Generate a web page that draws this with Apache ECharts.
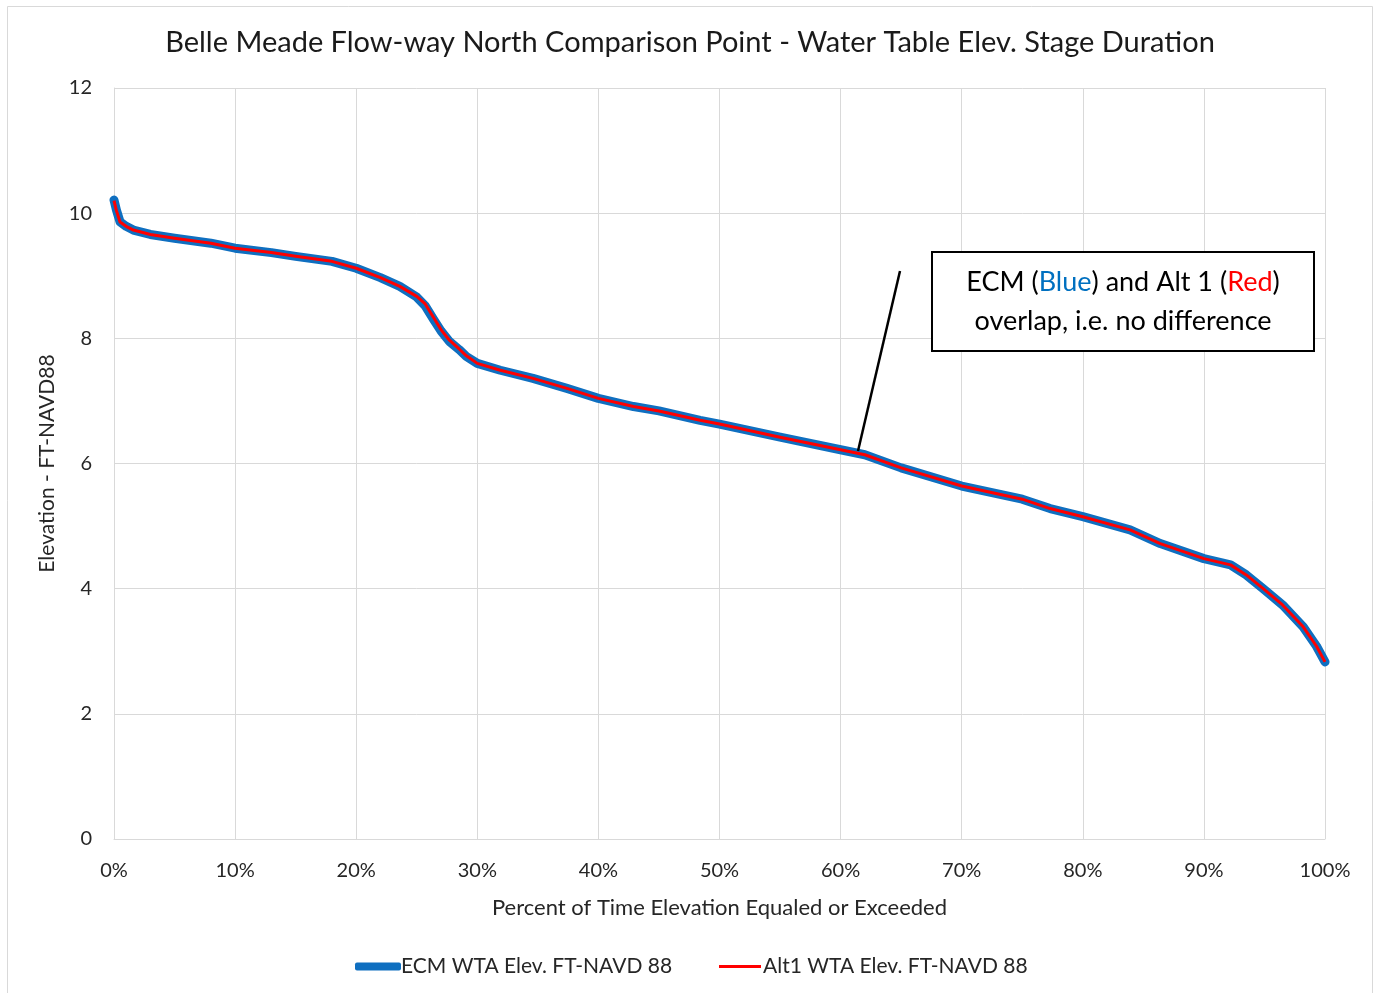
<!DOCTYPE html>
<html>
<head>
<meta charset="utf-8">
<script src="https://cdn.jsdelivr.net/npm/echarts@6/dist/echarts.min.js"></script>
<style>
html,body{margin:0;padding:0;background:#fff;}
#chart{width:1380px;height:993px;}
</style>
</head>
<body>
<div id="chart"></div>
<script>
// Percent of time (x) and elevation values (ft NAVD88)
const percentTime = [0,0.2,0.5,1,1.6,3,5,8,10,13,15,18,20,22,23.6,25,25.7,26.4,27,27.7,28.5,29.1,30,31.9,34.6,37.4,40,42.9,45,48.4,50,55,60,62,65,70,75,77.3,80,83.9,86.4,90,92.2,93.5,94.9,96.5,98.2,99.3,100];
const ecmElev = [10.21,10.05,9.86,9.79,9.73,9.66,9.60,9.52,9.44,9.37,9.31,9.23,9.12,8.97,8.83,8.66,8.52,8.30,8.12,7.95,7.82,7.71,7.60,7.49,7.36,7.20,7.04,6.91,6.84,6.69,6.63,6.42,6.22,6.14,5.93,5.64,5.43,5.28,5.15,4.94,4.72,4.48,4.38,4.22,4.00,3.74,3.39,3.08,2.83];
const alt1Elev = [10.20,10.04,9.86,9.79,9.73,9.66,9.60,9.52,9.44,9.37,9.31,9.23,9.12,8.97,8.83,8.67,8.55,8.33,8.14,7.97,7.83,7.72,7.60,7.49,7.36,7.20,7.04,6.91,6.84,6.69,6.63,6.42,6.22,6.14,5.93,5.64,5.43,5.28,5.15,4.94,4.72,4.48,4.38,4.22,4.00,3.74,3.39,3.08,2.83];
const seriesNames = ['ECM WTA Elev. FT-NAVD 88', 'Alt1 WTA Elev. FT-NAVD 88'];
const titleText = 'Belle Meade Flow-way North Comparison Point - Water Table Elev. Stage Duration';
const xAxisTitle = 'Percent of Time Elevation Equaled or Exceeded';
const yAxisTitle = 'Elevation - FT-NAVD88';

const FONT = 'Lato, "Open Sans", sans-serif';
const TXT = '#262626';
const pair = (xs, ys) => xs.map((x, i) => [x, ys[i]]);

const chart = echarts.init(document.getElementById('chart'));
chart.setOption({
  animation: false,
  backgroundColor: '#ffffff',
  title: {
    text: titleText,
    left: 'center',
    top: 23,
    textStyle: { fontFamily: FONT, fontSize: 29, fontWeight: 'normal', color: '#1a1a1a' }
  },
  grid: { left: 114, right: 55, top: 88, bottom: 154, containLabel: false },
  xAxis: {
    type: 'value', min: 0, max: 100, interval: 10,
    name: xAxisTitle, nameLocation: 'middle', nameGap: 58,
    nameTextStyle: { fontFamily: FONT, fontSize: 22, color: TXT },
    axisLine: { show: true, lineStyle: { color: '#d9d9d9', width: 1 } },
    axisTick: { show: false },
    axisLabel: { formatter: '{value}%', fontFamily: FONT, fontSize: 20, color: TXT, margin: 22 },
    splitLine: { show: true, lineStyle: { color: '#d9d9d9', width: 1 } }
  },
  yAxis: {
    type: 'value', min: 0, max: 12, interval: 2,
    name: yAxisTitle, nameLocation: 'middle', nameGap: 56, nameRotate: 90,
    nameTextStyle: { fontFamily: FONT, fontSize: 21, color: TXT },
    axisLine: { show: true, lineStyle: { color: '#d9d9d9', width: 1 } },
    axisTick: { show: false },
    axisLabel: { fontFamily: FONT, fontSize: 20, color: TXT, margin: 22 },
    splitLine: { show: true, lineStyle: { color: '#d9d9d9', width: 1 } }
  },
  legend: [
    {
      data: [{ name: seriesNames[0], icon: 'roundRect' }],
      left: 350, top: 951, itemWidth: 46, itemHeight: 8, itemGap: 0,
      textStyle: { fontFamily: FONT, fontSize: 21, color: TXT, padding: [0, 0, 0, -5] }
    },
    {
      data: [{ name: seriesNames[1], icon: 'rect' }],
      left: 714, top: 951, itemWidth: 42, itemHeight: 3, itemGap: 0,
      textStyle: { fontFamily: FONT, fontSize: 21, color: TXT, padding: [0, 0, 0, -3] }
    }
  ],
  series: [
    {
      name: seriesNames[0], type: 'line', data: pair(percentTime, ecmElev),
      showSymbol: false, symbol: 'none',
      lineStyle: { color: '#0f6fc0', width: 9, cap: 'round', join: 'round' },
      itemStyle: { color: '#0f6fc0' }
    },
    {
      name: seriesNames[1], type: 'line', data: pair(percentTime, alt1Elev),
      showSymbol: false, symbol: 'none',
      lineStyle: { color: '#ff0000', width: 3, join: 'round' },
      itemStyle: { color: '#ff0000' }
    }
  ],
  graphic: [
    { type: 'rect', shape: { x: 7.5, y: 6.5, width: 1365, height: 1000 },
      style: { fill: 'none', stroke: '#d9d9d9', lineWidth: 1 }, silent: true },
    { type: 'line', shape: { x1: 900, y1: 271, x2: 858, y2: 451 },
      style: { stroke: '#000', lineWidth: 2.5 }, z: 10 },
    { type: 'rect', shape: { x: 932, y: 252, width: 382, height: 99 },
      style: { fill: '#fff', stroke: '#000', lineWidth: 2 }, z: 10 },
    { type: 'text', x: 1123, y: 302, z: 11,
      style: {
        text: '{k|ECM (}{b|Blue}{k|) and Alt 1 (}{r|Red}{k|)}\n{k|overlap, i.e. no difference}',
        align: 'center', verticalAlign: 'middle', lineHeight: 39,
        rich: {
          k: { fontFamily: FONT, fontSize: 27, fill: '#000', lineHeight: 39 },
          b: { fontFamily: FONT, fontSize: 27, fill: '#0070c0', lineHeight: 39 },
          r: { fontFamily: FONT, fontSize: 27, fill: '#ff0000', lineHeight: 39 }
        }
      } }
  ]
});
</script>
</body>
</html>
